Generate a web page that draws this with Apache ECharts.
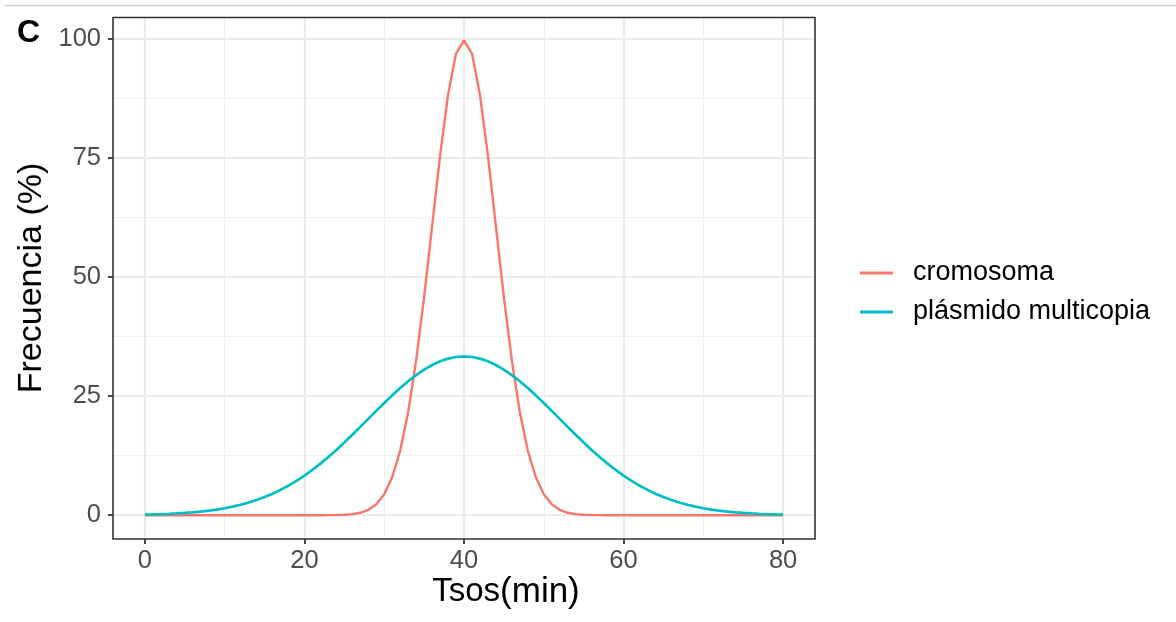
<!DOCTYPE html>
<html>
<head>
<meta charset="utf-8">
<script src="https://cdn.jsdelivr.net/npm/echarts@6/dist/echarts.min.js"></script>
<style>
html,body{margin:0;padding:0;background:#fff;}
#chart{width:1176px;height:622px;}
</style>
</head>
<body>
<div id="chart"></div>
<script>
// ---- data ----
const tsos = [0,1,2,3,4,5,6,7,8,9,10,11,12,13,14,15,16,17,18,19,20,21,22,23,24,25,26,27,28,29,30,31,32,33,34,35,36,37,38,39,40,41,42,43,44,45,46,47,48,49,50,51,52,53,54,55,56,57,58,59,60,61,62,63,64,65,66,67,68,69,70,71,72,73,74,75,76,77,78,79,80];
const cromosoma = [0,0,0,0,0,0,0,0,0,0,0,0,0,0,0,0,0,0,0,0,0,0,0,
  0.01,0.03,0.09,0.22,0.51,1.11,2.28,4.39,7.96,13.53,21.63,32.47,45.79,60.65,75.48,88.25,96.92,99.7,
  96.92,88.25,75.48,60.65,45.79,32.47,21.63,13.53,7.96,4.39,2.28,1.11,0.51,0.22,0.09,0.03,0.01,
  0,0,0,0,0,0,0,0,0,0,0,0,0,0,0,0,0,0,0,0,0,0,0];
const plasmido = [0.13,0.17,0.22,0.29,0.37,0.47,0.60,0.76,0.95,1.18,1.46,1.80,2.19,2.65,3.19,3.81,4.51,5.31,6.21,7.21,8.31,9.52,10.82,12.22,13.70,15.26,16.88,18.54,20.22,21.90,23.55,25.16,26.69,28.12,29.42,30.56,31.53,32.31,32.87,33.22,33.33,
  33.22,32.87,32.31,31.53,30.56,29.42,28.12,26.69,25.16,23.55,21.90,20.22,18.54,16.88,15.26,13.70,12.22,10.82,9.52,8.31,7.21,6.21,5.31,4.51,3.81,3.19,2.65,2.19,1.80,1.46,1.18,0.95,0.76,0.60,0.47,0.37,0.29,0.22,0.17,0.13];
const seriesNames = ['cromosoma','plásmido multicopia'];
const xTicks = [0,20,40,60,80];
const xMinor = [10,30,50,70];
const yTicks = [0,25,50,75,100];
const yMinor = [12.5,37.5,62.5,87.5];

const FONT = '"Liberation Sans", Arial, sans-serif';
const chart = echarts.init(document.getElementById('chart'), null, {renderer:'canvas'});

const majorAxis = (ticks, extra) => Object.assign({
  type:'value',
  axisLine:{show:false, onZero:false},
  axisTick:{show:true, inside:false, length:5, customValues:ticks, lineStyle:{color:'#333333', width:1.8}},
  axisLabel:{show:true, customValues:ticks, color:'#4D4D4D', fontSize:25.5, fontFamily:FONT},
  splitLine:{show:true, lineStyle:{color:'#EBEBEB', width:2.2}},
  minorSplitLine:{show:false}
}, extra);
const minorAxis = (ticks, extra) => Object.assign({
  type:'value',
  axisLine:{show:false, onZero:false},
  axisTick:{show:false, customValues:ticks},
  axisLabel:{show:false, customValues:ticks},
  splitLine:{show:true, lineStyle:{color:'#F0F0F0', width:1.1}}
}, extra);

chart.setOption({
  animation:false,
  backgroundColor:'#ffffff',
  grid:{left:113, right:361, top:17.5, bottom:83, show:true, borderColor:'#333333', borderWidth:1.6, backgroundColor:'transparent', z:3},
  xAxis:[
    minorAxis(xMinor, {min:-4, max:84, position:'bottom'}),
    majorAxis(xTicks, {min:-4, max:84, position:'bottom', axisLabel:{show:true, customValues:xTicks, color:'#4D4D4D', fontSize:25.5, fontFamily:FONT, margin:9}})
  ],
  yAxis:[
    minorAxis(yMinor, {min:-5, max:104.5, position:'left'}),
    majorAxis(yTicks, {min:-5, max:104.5, position:'left', axisLabel:{show:true, customValues:yTicks, color:'#4D4D4D', fontSize:25.5, fontFamily:FONT, margin:12}})
  ],
  legend:{
    orient:'vertical', left:855, top:253, itemWidth:33, itemHeight:3, itemGap:9,
    icon:'rect',
    textStyle:{fontSize:27, fontFamily:FONT, color:'#000000', padding:[0,0,0,15], lineHeight:30},
    data:seriesNames
  },
  series:[
    {name:seriesNames[0], type:'line', xAxisIndex:1, yAxisIndex:1, showSymbol:false, symbol:'none',
     color:'#F8766D', lineStyle:{color:'#F8766D', width:2.4}, z:5,
     data:tsos.map((x,i)=>[x,cromosoma[i]])},
    {name:seriesNames[1], type:'line', xAxisIndex:1, yAxisIndex:1, showSymbol:false, symbol:'none',
     color:'#00BFC4', lineStyle:{color:'#00BFC4', width:2.7}, z:5, smooth:false,
     data:tsos.map((x,i)=>[x,plasmido[i]])}
  ],
  graphic:[
    {type:'line', shape:{x1:5, y1:5.5, x2:1176, y2:5.5}, style:{stroke:'#D3D3D3', lineWidth:1.5}, silent:true},
    {type:'text', left:17, top:17, style:{text:'C', font:'bold 32px "Liberation Sans", Arial, sans-serif', fill:'#000000'}},
    {type:'text', x:32, y:278, rotation:Math.PI/2,
     style:{text:'Frecuencia (%)', font:'34px "Liberation Sans", Arial, sans-serif', fill:'#000000', align:'center', verticalAlign:'middle'}},
    {type:'text', x:506, y:592,
     style:{rich:{a:{font:'33px "Liberation Sans", Arial, sans-serif', fill:'#000000'}, b:{font:'35px "Liberation Sans", Arial, sans-serif', fill:'#000000'}},
       text:'{a|Tsos}{b|(min)}', align:'center', verticalAlign:'middle'}}
  ]
});
</script>
</body>
</html>
